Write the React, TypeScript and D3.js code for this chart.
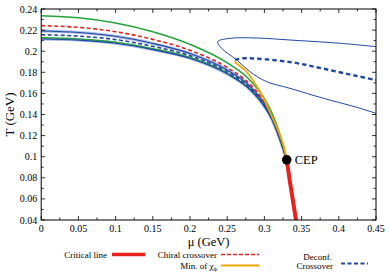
import React from "react";
import * as d3 from "d3";

const W = 390, H = 273;
const MU = [0, 0.05, 0.1, 0.15, 0.2, 0.25, 0.28, 0.3, 0.31, 0.32, 0.33];
const greenTop = [0.2337, 0.2318, 0.2268, 0.2185, 0.2065, 0.189, 0.173, 0.155, 0.1415, 0.123, 0.097];
const redCross = [0.2242, 0.2226, 0.2185, 0.2112, 0.2008, 0.1845, 0.1691, 0.1518, 0.1389, 0.1209, 0.097];
const blueA = [0.2191, 0.2177, 0.2141, 0.2073, 0.1978, 0.1821, 0.1671, 0.1501, 0.1375, 0.1197, 0.097];
const blueDash = [0.2156, 0.2143, 0.211, 0.2046, 0.1957, 0.1804, 0.1656, 0.1489, 0.1366, 0.1189, 0.097];
const greenLow = [0.2127, 0.2116, 0.2085, 0.2024, 0.194, 0.179, 0.1645, 0.1479, 0.1358, 0.1183, 0.097];
const blueB = [0.2116, 0.2105, 0.2075, 0.2015, 0.1933, 0.1785, 0.164, 0.1475, 0.1355, 0.118, 0.097];

const chiMinMu = [0.2597, 0.265, 0.274, 0.285, 0.297, 0.309, 0.319, 0.326, 0.33];
const chiMinT = [0.19, 0.187, 0.182, 0.172, 0.158, 0.14, 0.124, 0.11, 0.097];

const deconfMu = [0.2605, 0.2712, 0.3344, 0.3788, 0.4241, 0.45];
const deconfT = [0.1917, 0.1933, 0.1897, 0.1835, 0.1765, 0.1727];

const loopMu = [0.45, 0.4018, 0.3344, 0.2897, 0.2538, 0.2372, 0.2426, 0.2628, 0.2806, 0.3031, 0.3344, 0.3792, 0.4241, 0.45];
const loopT = [0.2043, 0.2075, 0.2106, 0.2125, 0.2122, 0.209, 0.2027, 0.1917, 0.1806, 0.1711, 0.1648, 0.1554, 0.1468, 0.1411];

const critMu = [0.33, 0.3335, 0.3375, 0.3425];
const critT = [0.097, 0.08, 0.062, 0.04];

const CEP = [0.33, 0.097];
const xTicks = [0, 0.05, 0.1, 0.15, 0.2, 0.25, 0.3, 0.35, 0.4, 0.45];
const yTicks = [0.04, 0.06, 0.08, 0.1, 0.12, 0.14, 0.16, 0.18, 0.2, 0.22, 0.24];

const GREEN = "#23a23a", RED = "#e8211c", BLUE = "#2447a0", LBLUE = "#a9bde6", ORANGE = "#f7a800";
const FONT = "'Liberation Serif', 'Times New Roman', serif";

export default function App() {
  const x = d3.scaleLinear().domain([0, 0.45]).range([41.2, 376]);
  const y = d3.scaleLinear().domain([0.04, 0.24]).range([220, 9]);
  const L = x(0), R = x(0.45), T = y(0.24), B = y(0.04);

  const lineMu = (ts: number[], mus: number[] = MU) =>
    d3.line<number>().x((_, i) => x(mus[i])).y((d) => y(d)).curve(d3.curveMonotoneX)(ts) || "";
  const lineCR = (mus: number[], ts: number[]) =>
    d3.line<number>().x((d) => x(d)).y((_, i) => y(ts[i])).curve(d3.curveCatmullRom.alpha(0.5))(mus) || "";

  const xMinor = d3.range(0, 0.4501, 0.025);
  const yMinor = d3.range(0.04, 0.2401, 0.01);

  return (
    <svg width={W} height={H} style={{ position: "absolute", left: 0, top: 0, background: "#fff" }} fontFamily={FONT}>
      <defs>
        <clipPath id="plot"><rect x={L} y={T} width={R - L} height={B - T} /></clipPath>
      </defs>
      <g clipPath="url(#plot)" fill="none">
        <path d={lineCR(loopMu, loopT)} stroke={BLUE} strokeWidth={1} />
        <path d={lineCR(deconfMu, deconfT)} stroke={BLUE} strokeWidth={2.4} strokeDasharray="4.5,3" />
        <path d={lineMu(blueA)} stroke={LBLUE} strokeWidth={3} />
        <path d={lineMu(blueB)} stroke={LBLUE} strokeWidth={3} />
        <path d={lineMu(greenLow)} stroke={GREEN} strokeWidth={1.5} />
        <path d={lineMu(blueB)} stroke={BLUE} strokeWidth={1.1} />
        <path d={lineMu(blueA)} stroke={BLUE} strokeWidth={1.1} />
        <path d={lineMu(blueDash)} stroke={BLUE} strokeWidth={1.6} strokeDasharray="4,2.5" />
        <path d={lineMu(redCross)} stroke={RED} strokeWidth={1.6} strokeDasharray="4,2.5" />
        <path d={lineMu(greenTop)} stroke={GREEN} strokeWidth={1.5} />
        <path d={lineCR(chiMinMu, chiMinT)} stroke={ORANGE} strokeWidth={1.8} />
        <path d={lineCR(critMu, critT)} stroke={RED} strokeWidth={4} />
      </g>
      <circle cx={x(CEP[0])} cy={y(CEP[1])} r={4.8} fill="#000" />
      <text x={x(CEP[0]) + 8} y={y(CEP[1]) + 4.5} fontSize={12.5}>CEP</text>

      {/* frame */}
      <rect x={L} y={T} width={R - L} height={B - T} fill="none" stroke="#000" strokeWidth={1} />
      {xMinor.map((v, i) => {
        const len = i % 2 === 0 ? 4 : 2.5;
        return (
          <g key={"xt" + i} stroke="#000" strokeWidth={0.8}>
            <line x1={x(v)} x2={x(v)} y1={B} y2={B - len} />
            <line x1={x(v)} x2={x(v)} y1={T} y2={T + len} />
          </g>
        );
      })}
      {yMinor.map((v, i) => {
        const len = i % 2 === 0 ? 4 : 2.5;
        return (
          <g key={"yt" + i} stroke="#000" strokeWidth={0.8}>
            <line x1={L} x2={L + len} y1={y(v)} y2={y(v)} />
            <line x1={R} x2={R - len} y1={y(v)} y2={y(v)} />
          </g>
        );
      })}
      {xTicks.map((v) => (
        <text key={"xl" + v} x={x(v)} y={B + 11.5} fontSize={10} textAnchor="middle">{String(+v.toFixed(3))}</text>
      ))}
      {yTicks.map((v) => (
        <text key={"yl" + v} x={L - 4} y={y(v) + 3.5} fontSize={10} textAnchor="end">{String(+v.toFixed(3))}</text>
      ))}
      <text x={(L + R) / 2} y={246} fontSize={12.5} textAnchor="middle">μ (GeV)</text>
      <text transform={`translate(14,${(T + B) / 2}) rotate(-90)`} fontSize={13} textAnchor="middle">T (GeV)</text>

      {/* legend */}
      <text x={107} y={257.5} fontSize={9} textAnchor="end">Critical line</text>
      <line x1={112} x2={145} y1={254.5} y2={254.5} stroke={RED} strokeWidth={3.5} />
      <text x={217} y={257.5} fontSize={9} textAnchor="end">Chiral crossover</text>
      <line x1={221} x2={259} y1={254.5} y2={254.5} stroke={RED} strokeWidth={1.5} strokeDasharray="4,2" />
      <text x={217} y={268.5} fontSize={9} textAnchor="end">Min. of χ<tspan fontSize={6.5} dy={2}>ϕ</tspan></text>
      <line x1={221} x2={259} y1={265.5} y2={265.5} stroke={ORANGE} strokeWidth={1.8} />
      <text x={332} y={259.5} fontSize={9} textAnchor="end">Deconf.</text>
      <text x={333} y={269} fontSize={9} textAnchor="end">Crossover</text>
      <line x1={341} x2={368} y1={263.5} y2={263.5} stroke={BLUE} strokeWidth={2} strokeDasharray="4,2.5" />
    </svg>
  );
}
